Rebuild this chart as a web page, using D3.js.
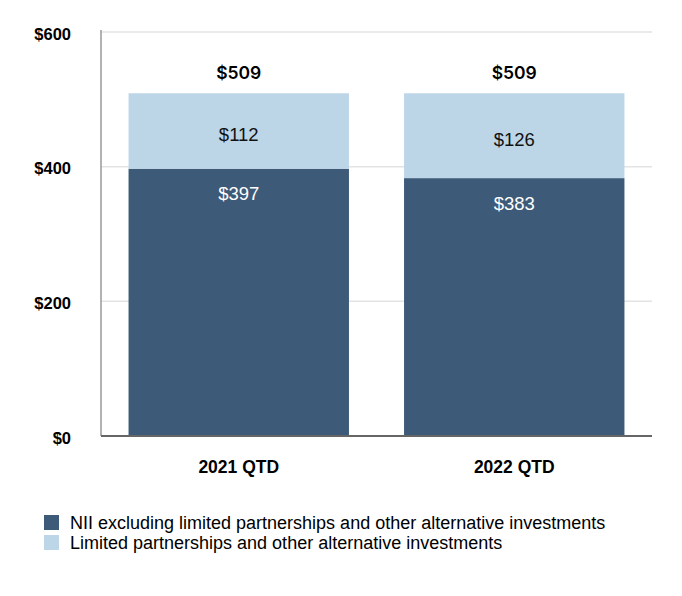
<!DOCTYPE html>
<html>
<head>
<meta charset="utf-8">
<script src="https://cdn.jsdelivr.net/npm/d3@7"></script>
<style>
  body { margin: 0; background: #fff; font-family: "Liberation Sans", Arial, sans-serif; }
</style>
</head>
<body>
<div id="vis"></div>
<script>
// data
const categories = ["2021 QTD", "2022 QTD"];
const niiExcl = [397, 383];
const limitedPartnerships = [112, 126];
const totals = [509, 509];
const yTicks = [0, 200, 400, 600];
const seriesNames = [
    "NII excluding limited partnerships and other alternative investments",
    "Limited partnerships and other alternative investments"
];
const colors = ["#3d5a78", "#bcd6e8"];

const dimensions = {
    width: 682,
    height: 596,
    margin: {top: 32, right: 30, bottom: 160, left: 101}
};
dimensions.boundedWidth = dimensions.width - dimensions.margin.left - dimensions.margin.right;
dimensions.boundedHeight = dimensions.height - dimensions.margin.top - dimensions.margin.bottom;

const svg = d3.select("#vis")
    .append("svg")
    .attr("width", dimensions.width)
    .attr("height", dimensions.height);

const g = svg.append("g")
    .attr("transform", `translate(${dimensions.margin.left}, ${dimensions.margin.top})`);

const xScale = d3.scaleBand()
    .domain(categories)
    .range([0, dimensions.boundedWidth])
    .paddingInner(0.2)
    .paddingOuter(0.1);

const yScale = d3.scaleLinear()
    .domain([0, 600])
    .range([dimensions.boundedHeight, 0]);

// gridlines
g.selectAll(".grid")
    .data(yTicks.filter(d => d > 0))
    .join("line")
    .attr("x1", 0)
    .attr("x2", dimensions.boundedWidth)
    .attr("y1", d => yScale(d))
    .attr("y2", d => yScale(d))
    .attr("stroke", "#e3e3e3")
    .attr("stroke-width", 1.5);

// y tick labels
g.selectAll(".ytick")
    .data(yTicks)
    .join("text")
    .attr("x", -30)
    .attr("y", d => yScale(d) + 2)
    .attr("dy", "0.35em")
    .attr("text-anchor", "end")
    .attr("font-size", 16.5)
    .attr("font-weight", "bold")
    .attr("fill", "#000")
    .text(d => "$" + d);

// stacked bars
const stackData = categories.map((c, i) => ({cat: c, a: niiExcl[i], b: limitedPartnerships[i]}));

g.selectAll(".barA")
    .data(stackData)
    .join("rect")
    .attr("x", d => xScale(d.cat))
    .attr("width", xScale.bandwidth())
    .attr("y", d => yScale(d.a))
    .attr("height", d => yScale(0) - yScale(d.a))
    .attr("fill", colors[0]);

g.selectAll(".barB")
    .data(stackData)
    .join("rect")
    .attr("x", d => xScale(d.cat))
    .attr("width", xScale.bandwidth())
    .attr("y", d => yScale(d.a + d.b))
    .attr("height", d => yScale(d.a) - yScale(d.a + d.b))
    .attr("fill", colors[1]);

// segment labels
g.selectAll(".labA")
    .data(stackData)
    .join("text")
    .attr("x", d => xScale(d.cat) + xScale.bandwidth() / 2)
    .attr("y", d => yScale(d.a) + 25)
    .attr("dy", "0.35em")
    .attr("text-anchor", "middle")
    .attr("font-size", 18.5)
    .attr("fill", "#fff")
    .text(d => "$" + d.a);

g.selectAll(".labB")
    .data(stackData)
    .join("text")
    .attr("x", d => xScale(d.cat) + xScale.bandwidth() / 2)
    .attr("y", d => (yScale(d.a) + yScale(d.a + d.b)) / 2 + 4)
    .attr("dy", "0.35em")
    .attr("text-anchor", "middle")
    .attr("font-size", 18.5)
    .attr("fill", "#111")
    .text(d => "$" + d.b);

// totals
g.selectAll(".total")
    .data(categories)
    .join("text")
    .attr("x", d => xScale(d) + xScale.bandwidth() / 2)
    .attr("y", (d, i) => yScale(totals[i]) - 20)
    .attr("dy", "0.35em")
    .attr("text-anchor", "middle")
    .attr("font-family", "Inter, 'Open Sans', sans-serif")
    .attr("font-size", 17.5)
    .attr("font-weight", 600)
    .attr("fill", "#000")
    .text((d, i) => "$" + totals[i]);

// axes lines
g.append("line")
    .attr("x1", 0).attr("x2", 0)
    .attr("y1", -2).attr("y2", dimensions.boundedHeight)
    .attr("stroke", "#999").attr("stroke-width", 1.5);
g.append("line")
    .attr("x1", 0).attr("x2", dimensions.boundedWidth)
    .attr("y1", dimensions.boundedHeight).attr("y2", dimensions.boundedHeight)
    .attr("stroke", "#666").attr("stroke-width", 2);

// x labels
g.selectAll(".xlab")
    .data(categories)
    .join("text")
    .attr("x", d => xScale(d) + xScale.bandwidth() / 2)
    .attr("y", dimensions.boundedHeight + 31)
    .attr("dy", "0.35em")
    .attr("text-anchor", "middle")
    .attr("font-size", 17.5)
    .attr("font-weight", "bold")
    .attr("fill", "#000")
    .text(d => d);

// legend
const legend = svg.append("g")
    .attr("transform", "translate(44, 515)");
const items = legend.selectAll("g")
    .data(seriesNames)
    .join("g")
    .attr("transform", (d, i) => `translate(0, ${i * 20})`);
items.append("rect")
    .attr("width", 15).attr("height", 15)
    .attr("fill", (d, i) => colors[i]);
items.append("text")
    .attr("x", 26)
    .attr("y", 8)
    .attr("dy", "0.35em")
    .attr("font-size", 18)
    .attr("fill", "#000")
    .text(d => d);
</script>
</body>
</html>
